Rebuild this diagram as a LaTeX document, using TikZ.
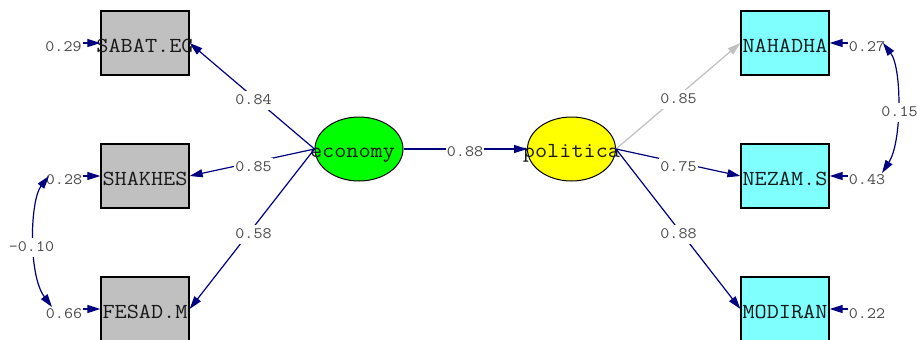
\documentclass[tikz,border=0pt]{standalone}
\usepackage{fontspec}
\newfontfamily\courlike[FakeStretch=1.1]{Latin Modern Mono}
\usetikzlibrary{arrows.meta,shapes.geometric}
\definecolor{navy}{RGB}{0,0,128}
\definecolor{lgray}{RGB}{192,192,192}
\definecolor{boxgray}{RGB}{192,192,192}
\definecolor{cyanbox}{RGB}{128,255,255}
\definecolor{labgray}{RGB}{72,72,72}
\definecolor{txtdark}{RGB}{24,24,24}
\definecolor{greenlat}{RGB}{0,255,0}
\definecolor{yellowlat}{RGB}{255,255,0}
\newcommand\lowtext[2]{\makebox[0pt]{\smash{\raisebox{#1}{#2}}}}
\begin{document}
\begin{tikzpicture}[x=1bp,y=-1bp,
  obs/.style={draw=black,line width=1.3bp,rectangle,minimum width=88bp,minimum height=64bp,inner sep=0pt,
    text=txtdark,font=\courlike\fontsize{21.5}{21.5}\selectfont},
  lat/.style={draw=black,line width=1bp,ellipse,minimum width=88bp,minimum height=64bp,inner sep=0pt,
    text=txtdark,font=\courlike\fontsize{21.5}{21.5}\selectfont},
  coef/.style={fill=white,inner xsep=1bp,inner ysep=1bp,text height=12.5bp,text depth=4.5bp,anchor=base,
    text=labgray,font=\courlike\fontsize{16}{16}\selectfont},
  errlab/.style={inner xsep=1bp,inner ysep=1bp,anchor=base,text=labgray,font=\courlike\fontsize{16}{16}\selectfont},
  pathline/.style={draw=navy,line width=1.2bp,-{Triangle[length=13bp,width=8bp]}},
  covline/.style={draw=navy,line width=1.2bp,{Triangle[length=13bp,width=8bp]}-{Triangle[length=13bp,width=8bp]}},
]
\useasboundingbox[fill=white] (0,0) rectangle (919,339);

% observed variables
\node[obs,fill=boxgray] (sabat) at (145,43) {\lowtext{-9bp}{SABAT.EG}};
\node[obs,fill=boxgray] (shakhes) at (145,176) {\lowtext{-9bp}{SHAKHES}};
\node[obs,fill=boxgray] (fesad) at (145,309) {\lowtext{-9bp}{FESAD.M}};
\node[obs,fill=cyanbox] (nahadha) at (785,43) {\lowtext{-9bp}{NAHADHA}};
\node[obs,fill=cyanbox] (nezam) at (785,176) {\lowtext{-9bp}{NEZAM.S}};
\node[obs,fill=cyanbox] (modiran) at (785,309) {\lowtext{-9bp}{MODIRAN}};

% latent variables
\node[lat,fill=greenlat] (economy) at (359,149) {\hspace{-13bp}\lowtext{-8bp}{economy}};
\node[lat,fill=yellowlat] (politica) at (571.5,149) {\lowtext{-8bp}{politica}};

% structural paths
\draw[pathline] (economy.west) -- (sabat.east);
\draw[pathline] (economy.west) -- (shakhes.east);
\draw[pathline] (economy.west) -- (fesad.east);
\draw[pathline] (economy.east) -- (politica.west);
\draw[pathline,draw=lgray,-{Triangle[length=13bp,width=8bp,fill=lgray]}] (politica.east) -- (nahadha.west);
\draw[pathline] (politica.east) -- (nezam.west);
\draw[pathline] (politica.east) -- (modiran.west);

% coefficient labels
\node[coef] at (253.5,104) {0.84};
\node[coef] at (253.5,171) {0.85};
\node[coef] at (253.5,238) {0.58};
\node[coef] at (465,156) {0.88};
\node[coef] at (678.5,103) {0.85};
\node[coef] at (678.5,171) {0.75};
\node[coef] at (678.5,238) {0.88};

% error variances
\node[errlab] (e1) at (63.5,51) {0.29};
\node[errlab] (e2) at (64,184) {0.28};
\node[errlab] (e3) at (64,318) {0.66};
\node[errlab] (e4) at (867,51.5) {0.27};
\node[errlab] (e5) at (867,184) {0.43};
\node[errlab] (e6) at (867,318) {0.22};
\draw[pathline] (e1.east |- sabat.west) -- (sabat.west);
\draw[pathline] (e2.east |- shakhes.west) -- (shakhes.west);
\draw[pathline] (e3.east |- fesad.west) -- (fesad.west);
\draw[pathline] (e4.west |- nahadha.east) -- (nahadha.east);
\draw[pathline] (e5.west |- nezam.east) -- (nezam.east);
\draw[pathline] (e6.west |- modiran.east) -- (modiran.east);

% error covariances
\coordinate (cl1) at (49,176);
\coordinate (cl2) at (52,307);
\coordinate (cr1) at (883,43);
\coordinate (cr2) at (882,173);
\draw[covline] (cl1) .. controls (30,200) and (28,275) .. (cl2);
\draw[covline] (cr1) .. controls (902,68) and (902,142) .. (cr2);
\node[coef] at (31.5,251) {-0.10};
\node[coef] at (899.5,116) {0.15};
\end{tikzpicture}
\end{document}
